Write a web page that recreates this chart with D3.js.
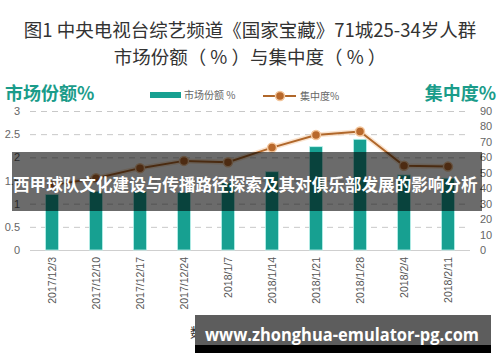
<!DOCTYPE html>
<html>
<head>
<meta charset="utf-8">
<script src="https://d3js.org/d3.v7.min.js"></script>
<style>
  body { margin: 0; background: #fff; }
  text { font-family: "Noto Sans CJK SC", "Noto Sans", sans-serif; }
</style>
</head>
<body>
<svg id="chart" width="500" height="362"></svg>
<script>
// data
const dates = ["2017/12/3", "2017/12/10", "2017/12/17", "2017/12/24", "2018/1/7",
  "2018/1/14", "2018/1/21", "2018/1/28", "2018/2/4", "2018/2/11"]
const share = [1.2, 1.27, 1.26, 1.24, 1.45, 1.69, 2.23, 2.39, 1.62, 1.55]
const concentration = [42, 46.5, 53, 57.7, 56.8, 66.3, 74.5, 76.7, 54.6, 54.0]
const leftTicks = [0, 0.5, 1, 1.5, 2, 2.5, 3]
const rightTicks = [0, 10, 20, 30, 40, 50, 60, 70, 80, 90]

const titleLines = ["图1 中央电视台综艺频道《国家宝藏》71城25-34岁人群", "市场份额（ % ）与集中度（ % ）"]
const overlayText = "西甲球队文化建设与传播路径探索及其对俱乐部发展的影响分析"
const watermark = "www.zhonghua-emulator-pg.com"

const teal = "#17a091"
const brown = "#b0672a"

let svg = d3.select("#chart")

let x = d3.scaleBand().domain(dates).range([30, 470]).paddingInner(0.7).paddingOuter(0.35)
let yL = d3.scaleLinear().domain([0, 3]).range([250, 111])
let yR = d3.scaleLinear().domain([0, 90]).range([250, 111])

// title
svg.selectAll(".title")
  .data(titleLines)
  .join("text")
  .attr("x", 250)
  .attr("y", (d, i) => 37 + i * 27)
  .attr("text-anchor", "middle")
  .style("font-size", "18.5px")
  .style("fill", "#333")
  .text(d => d)

// axis titles
svg.append("text").attr("x", 5).attr("y", 100)
  .style("font-size", "18px").style("font-weight", "bold").style("fill", "#1a9c8a")
  .text("市场份额%")
svg.append("text").attr("x", 496).attr("y", 100).attr("text-anchor", "end")
  .style("font-size", "18px").style("font-weight", "bold").style("fill", "#1a9c8a")
  .text("集中度%")

// legend
svg.append("rect").attr("x", 150).attr("y", 92).attr("width", 31).attr("height", 6).style("fill", teal)
svg.append("text").attr("x", 184).attr("y", 99).style("font-size", "10px").style("fill", "#666").text("市场份额 %")
svg.append("line").attr("x1", 263).attr("x2", 296).attr("y1", 96).attr("y2", 96)
  .style("stroke", brown).style("stroke-width", 2)
svg.append("circle").attr("cx", 280).attr("cy", 96).attr("r", 4.5)
  .style("fill", "#b8682b").style("stroke", "#f3c69c").style("stroke-width", 1.5)
svg.append("text").attr("x", 300).attr("y", 100).style("font-size", "10px").style("fill", "#666").text("集中度%")

// gridlines on the left scale
let axisL = d3.axisLeft(yL).tickValues(leftTicks).tickSize(-440).tickPadding(10)
  .tickFormat(d => d)
let gL = svg.append("g").attr("transform", "translate(30,0)").call(axisL)
gL.select(".domain").remove()
gL.selectAll(".tick line")
  .style("stroke", (d) => d === 0 ? "#cfcfcf" : "#c8c8c8")
  .style("stroke-dasharray", d => d === 0 ? null : "6,5")
gL.selectAll(".tick text").style("font-size", "11px").style("fill", "#666")
  .style("font-family", "'Liberation Sans', Arial, sans-serif")

let axisR = d3.axisRight(yR).tickValues(rightTicks).tickSize(0).tickPadding(10)
let gR = svg.append("g").attr("transform", "translate(470,0)").call(axisR)
gR.select(".domain").remove()
gR.selectAll(".tick text").style("font-size", "11px").style("fill", "#666")
  .style("font-family", "'Liberation Sans', Arial, sans-serif")

// bars
svg.selectAll(".bar")
  .data(share)
  .join("rect")
  .attr("class", "bar")
  .attr("x", (d, i) => x(dates[i]))
  .attr("width", x.bandwidth())
  .attr("y", d => yL(d))
  .attr("height", d => yL(0) - yL(d))
  .style("fill", teal)
  .style("stroke", "#bff3ee")
  .style("stroke-width", 0.8)

// x labels
let cx = (i) => x(dates[i]) + x.bandwidth() / 2
svg.selectAll(".xlab")
  .data(dates)
  .join("text")
  .attr("transform", (d, i) => `translate(${cx(i) + 4},257) rotate(-90)`)
  .attr("text-anchor", "end")
  .style("font-size", "10.5px")
  .style("fill", "#555")
  .style("font-family", "'Liberation Sans', Arial, sans-serif")
  .text(d => d)

// concentration line
let line = d3.line().x((d, i) => cx(i)).y(d => yR(d))
svg.append("path").datum(concentration).attr("d", line)
  .style("fill", "none").style("stroke", "#f6d2b0").style("stroke-width", 5).style("opacity", 0.6)
svg.append("path").datum(concentration).attr("d", line)
  .style("fill", "none").style("stroke", brown).style("stroke-width", 2)
svg.selectAll(".dot")
  .data(concentration)
  .join("circle")
  .attr("cx", (d, i) => cx(i))
  .attr("cy", d => yR(d))
  .attr("r", 4.5)
  .style("fill", "#b8682b")
  .style("stroke", "#f3c69c")
  .style("stroke-width", 1.5)

// source line
svg.append("text").attr("x", 190).attr("y", 337).style("font-size", "13px").style("fill", "#333")
  .text("数据来源：CSM媒介研究")

// overlay band
svg.append("rect").attr("x", 12).attr("y", 152).attr("width", 470).attr("height", 59)
  .style("fill", "rgba(0,0,0,0.58)")
svg.append("text").attr("x", 13).attr("y", 191)
  .style("font-size", "16.6px").style("font-weight", "bold").style("fill", "#fff")
  .text(overlayText)

// watermark box
svg.append("rect").attr("x", 195).attr("y", 315).attr("width", 296).attr("height", 38).style("fill", "#5d5d5d")
svg.append("rect").attr("x", 195).attr("y", 345).attr("width", 296).attr("height", 8).style("fill", "#000")
svg.append("text").attr("x", 205).attr("y", 341)
  .attr("textLength", 274).attr("lengthAdjust", "spacingAndGlyphs")
  .style("font-size", "17px").style("font-weight", "bold").style("fill", "#fff")
  .style("font-family", "'Open Sans', 'Noto Sans', sans-serif")
  .text(watermark)
</script>
</body>
</html>
